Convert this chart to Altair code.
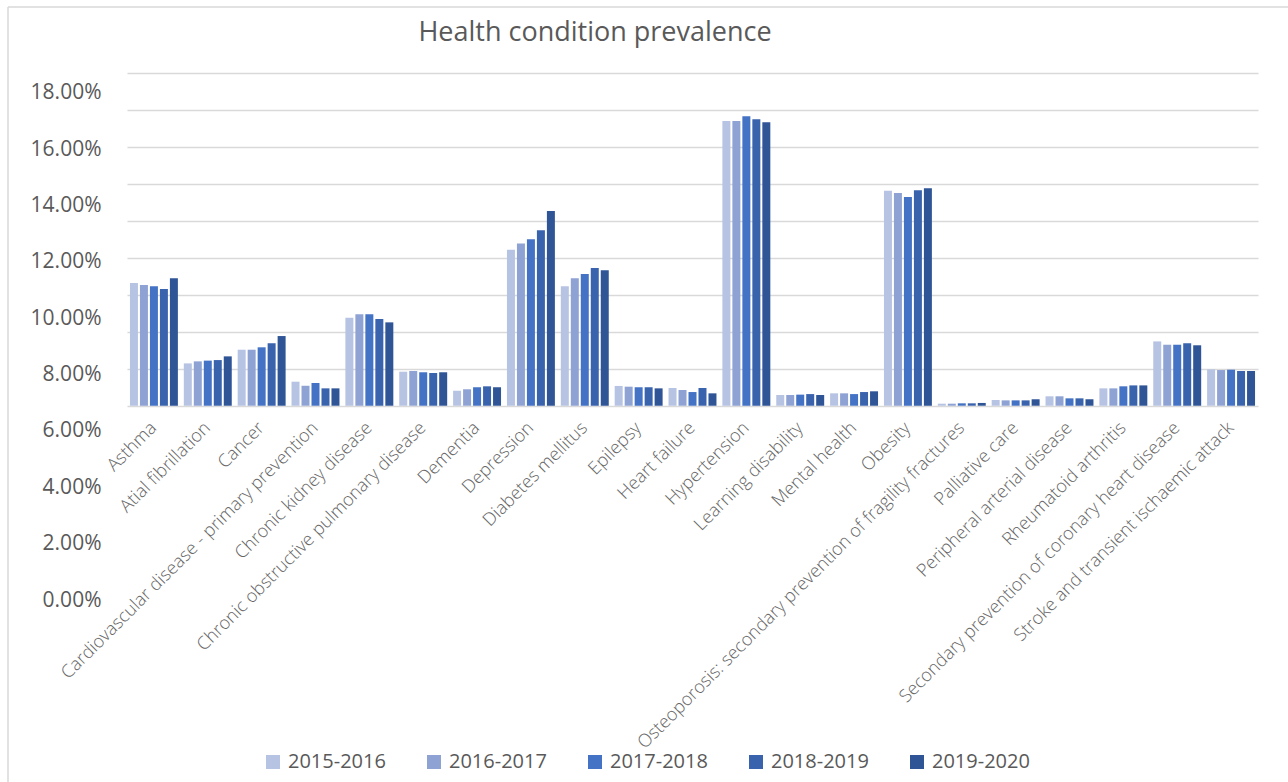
import altair as alt
import pandas as pd

# Condition names, in axis order
conditions = [
    "Asthma",
    "Atial fibrillation",
    "Cancer",
    "Cardiovascular disease - primary prevention",
    "Chronic kidney disease",
    "Chronic obstructive pulmonary disease",
    "Dementia",
    "Depression",
    "Diabetes mellitus",
    "Epilepsy",
    "Heart failure",
    "Hypertension",
    "Learning disability",
    "Mental health",
    "Obesity",
    "Osteoporosis: secondary prevention of fragility fractures",
    "Palliative care",
    "Peripheral arterial disease",
    "Rheumatoid arthritis",
    "Secondary prevention of coronary heart disease",
    "Stroke and transient ischaemic attack",
]

years = ["2015-2016", "2016-2017", "2017-2018", "2018-2019", "2019-2020"]

# Prevalence (%) per year, one value per condition
prev_2015_16 = [6.64, 2.29, 3.03, 1.30, 4.76, 1.84, 0.81, 8.44, 6.46, 1.07, 0.96,
                15.41, 0.58, 0.67, 11.63, 0.11, 0.31, 0.51, 0.94, 3.48, 1.97]
prev_2016_17 = [6.53, 2.40, 3.03, 1.08, 4.95, 1.88, 0.89, 8.77, 6.89, 1.03, 0.85,
                15.41, 0.58, 0.67, 11.51, 0.11, 0.29, 0.51, 0.94, 3.30, 1.93]
prev_2017_18 = [6.46, 2.44, 3.16, 1.23, 4.95, 1.81, 1.00, 9.00, 7.13, 1.00, 0.74,
                15.66, 0.60, 0.63, 11.29, 0.13, 0.29, 0.40, 1.05, 3.30, 1.95]
prev_2018_19 = [6.31, 2.47, 3.38, 0.94, 4.69, 1.77, 1.05, 9.49, 7.45, 1.00, 0.96,
                15.50, 0.63, 0.74, 11.66, 0.13, 0.29, 0.40, 1.10, 3.38, 1.88]
prev_2019_20 = [6.89, 2.67, 3.77, 0.94, 4.51, 1.81, 1.00, 10.54, 7.33, 0.94, 0.67,
                15.34, 0.58, 0.78, 11.76, 0.15, 0.35, 0.35, 1.10, 3.27, 1.88]

# Percentage tick labels on the value axis
tick_values = [0.00, 0.02, 0.04, 0.06, 0.08, 0.10, 0.12, 0.14, 0.16, 0.18]

year_colors = ["#B7C3E2", "#8FA2D4", "#4472C4", "#3A63AD", "#2F5597"]

chart_title = "Health condition prevalence"

series = [prev_2015_16, prev_2016_17, prev_2017_18, prev_2018_19, prev_2019_20]
rows = []
for year, vals in zip(years, series):
    for cond, v in zip(conditions, vals):
        rows.append({"condition": cond, "year": year, "prevalence": v / 100})
df = pd.DataFrame(rows)

ticks_df = pd.DataFrame({"tick": tick_values})

GRID = "#d9d9d9"
TEXT = "#595959"

bars = alt.Chart(df).mark_bar().encode(
    x=alt.X(
        "condition:N",
        sort=conditions,
        scale=alt.Scale(paddingInner=0.11, paddingOuter=0.055),
        axis=alt.Axis(
            title=None,
            labelAngle=-45,
            labelAlign="right",
            labelBaseline="middle",
            labelFont="Open Sans",
            labelFontWeight=300,
            labelFontSize=18,
            labelColor="#666666",
            labelPadding=19,
            labelLimit=700,
            labelOverlap=False,
            ticks=False,
            domain=False,
            offset=-194,
        ),
    ),
    xOffset=alt.XOffset(
        "year:N", sort=years, scale=alt.Scale(paddingInner=0.2, paddingOuter=0)
    ),
    y=alt.Y(
        "prevalence:Q",
        scale=alt.Scale(domain=[-0.1051, 0.18], nice=False),
        axis=alt.Axis(
            orient="right",
            values=tick_values,
            labels=False,
            ticks=False,
            domain=False,
            title=None,
            grid=True,
            gridColor=GRID,
            gridWidth=1.3,
        ),
    ),
    color=alt.Color(
        "year:N",
        sort=years,
        scale=alt.Scale(domain=years, range=year_colors),
        legend=alt.Legend(
            title=None,
            orient="none",
            legendX=136,
            legendY=679,
            direction="horizontal",
            symbolType="square",
            symbolSize=196,
            symbolStrokeWidth=0,
            symbolOpacity=1,
            labelFont="Open Sans",
            labelFontSize=20,
            labelColor=TEXT,
            labelOffset=5,
            columnPadding=38,
            padding=0,
        ),
    ),
)

# Percentage labels down the left side
value_labels = alt.Chart(ticks_df).mark_point(opacity=0).encode(
    y=alt.Y(
        "tick:Q",
        scale=alt.Scale(domain=[0, 0.18699], nice=False),
        axis=alt.Axis(
            orient="left",
            values=tick_values,
            format=".2%",
            title=None,
            grid=False,
            ticks=False,
            domain=False,
            labelFont="Open Sans",
            labelFontSize=21,
            labelColor=TEXT,
            labelPadding=26,
        ),
    )
)

edge_df = pd.DataFrame({"edge": [0]})
frame_left = alt.Chart(edge_df).mark_rule(color=GRID, strokeWidth=1.5).encode(
    x=alt.value(-119), y=alt.value(-66), y2=alt.value(709)
)
frame_top = alt.Chart(edge_df).mark_rule(color=GRID, strokeWidth=1.5).encode(
    x=alt.value(-119), x2=alt.value(1161), y=alt.value(-66)
)

heading = alt.Chart(edge_df).mark_text(
    font="Open Sans",
    fontSize=27,
    color=TEXT,
    align="center",
    baseline="middle",
).encode(
    text=alt.value(chart_title),
    x=alt.value(468),
    y=alt.value(-40),
)

chart = (
    alt.layer(bars, value_labels, frame_left, frame_top, heading)
    .resolve_scale(y="independent")
    .properties(
        width=1131,
        height=527,
        autosize=alt.AutoSizeParams(type="none"),
        padding={"left": 127, "top": 73, "right": 30, "bottom": 182},
        background="white",
    )
    .configure_view(stroke=None)
)

chart.save("out.html", embed_options={"renderer": "svg", "actions": False})
